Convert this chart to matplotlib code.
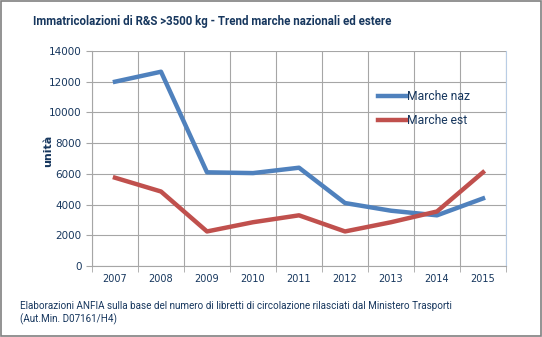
import matplotlib
matplotlib.use("Agg")
import matplotlib.pyplot as plt
import numpy as np

### Data ###
years = ['2007', '2008', '2009', '2010', '2011', '2012', '2013', '2014', '2015']
marche_naz = [12000, 12650, 6100, 6050, 6400, 4100, 3600, 3300, 4400]
marche_est = [5750, 4850, 2250, 2850, 3300, 2250, 2850, 3550, 6100]

navy = '#17375E'
blue = '#4F81BD'
red = '#C0504D'
font = ['Roboto', 'DejaVu Sans']

### Figure ###
fig = plt.figure(figsize=(5.42, 3.37), dpi=100)
ax = fig.add_axes([92/542, 1-266/337, (506-92)/542, (266-51)/337])

x = np.arange(len(years))
ax.plot(x, marche_naz, color=blue, lw=3.2, label='Marche naz')
ax.plot(x, marche_est, color=red, lw=3.2, label='Marche est')

ax.set_xlim(-0.5, len(years)-0.5)
ax.set_ylim(0, 14000)
ax.set_yticks(range(0, 14001, 2000))
ax.set_xticks(x)
ax.set_xticklabels(years)
ax.set_xticks(np.arange(-0.5, len(years)), minor=True)

ax.grid(axis='y', color='#A6A6A6', lw=0.8)
ax.grid(axis='x', which='minor', color='#A6A6A6', lw=0.8)
ax.set_axisbelow(True)
ax.tick_params(axis='x', which='major', length=0, labelsize=7, colors=navy, pad=6)
ax.tick_params(axis='x', which='minor', length=4, color='#A6A6A6')
ax.tick_params(axis='y', length=4, color='#A6A6A6', labelsize=7.5, labelcolor=navy)

ax.spines['top'].set_visible(False)
ax.spines['right'].set_color('#B9CDE5')
ax.spines['left'].set_color('#A6A6A6')
ax.spines['bottom'].set_color('#A6A6A6')

ax.set_ylabel('unità', fontsize=8, fontweight='bold', color=navy)
ax.yaxis.set_label_coords(-0.095, 0.535)

leg = ax.legend(loc='upper left', bbox_to_anchor=(0.665, 0.87), frameon=False,
                prop={'family': font, 'size': 8.7}, handlelength=2.4,
                handletextpad=0.0, labelspacing=0.95)
for t in leg.get_texts():
    t.set_color(navy)

fig.text(33/542, 1-21/337, 'Immatricolazioni di R&S >3500 kg - Trend marche nazionali ed estere',
         fontsize=8.3, fontweight='bold', family=font, color=navy, va='center', ha='left')
fig.text(20/542, 1-306/337, 'Elaborazioni ANFIA sulla base del numero di libretti di circolazione rilasciati dal Ministero Trasporti',
         fontsize=7.15, family=font, color=navy, va='center', ha='left')
fig.text(20/542, 1-319/337, '(Aut.Min. D07161/H4)',
         fontsize=7.15, family=font, color=navy, va='center', ha='left')

# outer border
fig.patches.append(plt.Rectangle((0.002, 0.003), 0.996, 0.994, transform=fig.transFigure,
                                 fill=False, edgecolor='#808080', lw=1.2))

fig.savefig('out.png', dpi=100)
